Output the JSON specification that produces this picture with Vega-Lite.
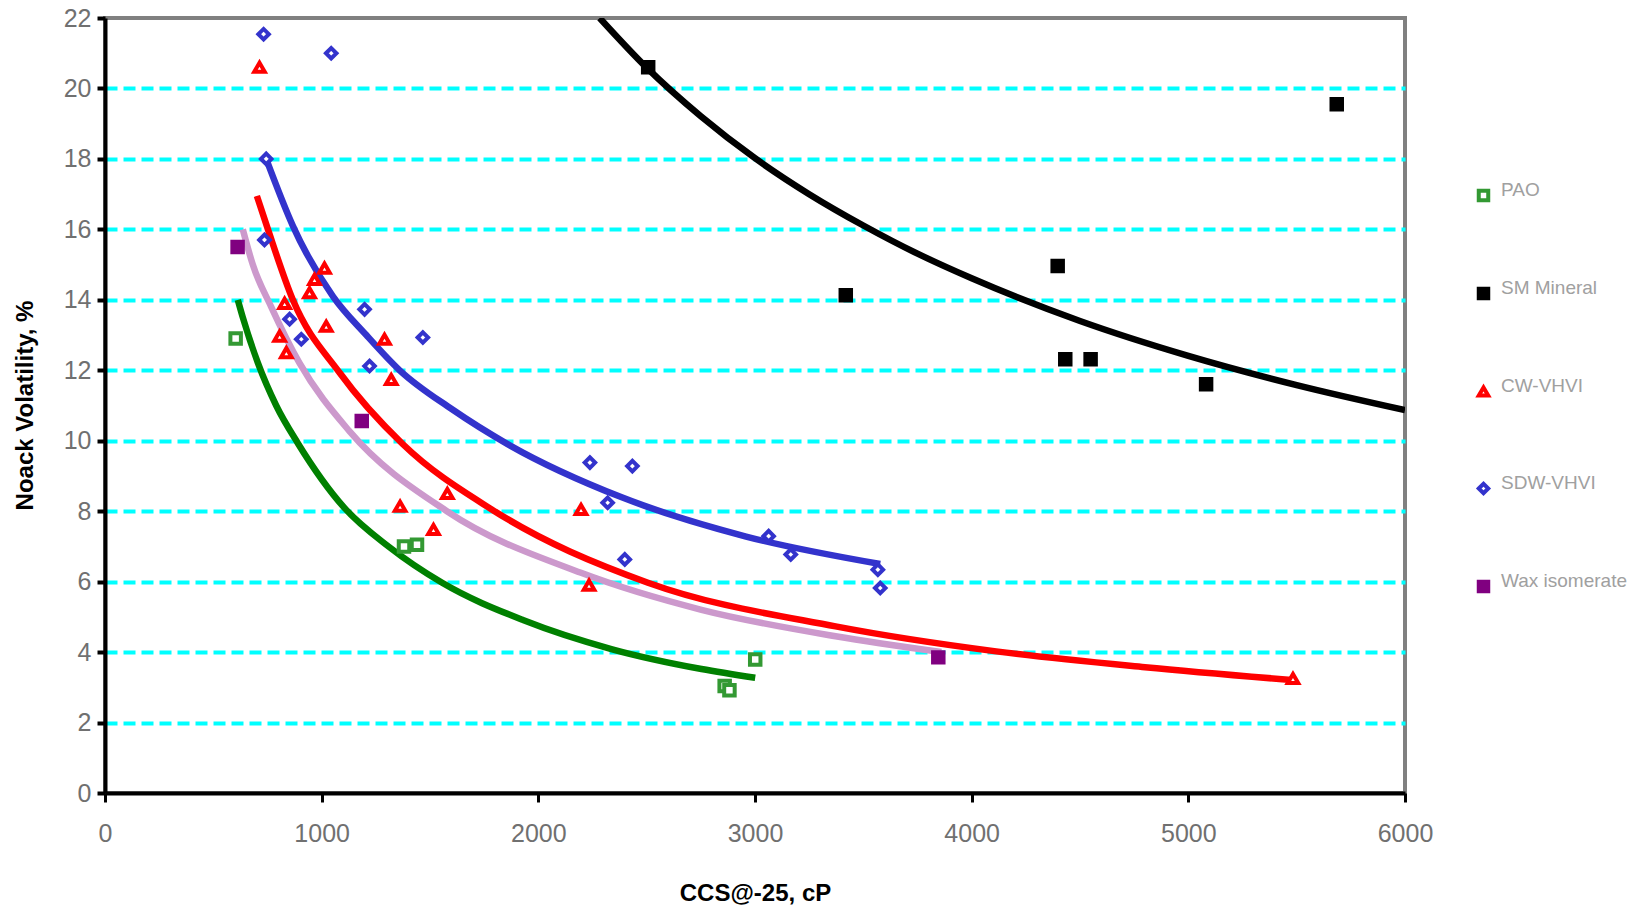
{
  "$schema": "https://vega.github.io/schema/vega-lite/v6.json",
  "autosize": "none",
  "width": 1300,
  "height": 775,
  "padding": {"left": 105, "top": 18, "right": 246, "bottom": 114},
  "background": "white",
  "config": {
    "font": "Liberation Sans",
    "view": {"stroke": "#808080", "strokeWidth": 4}
  },
  "datasets": {
    "obs": [
      {"series": "PAO", "ccs": 603, "noack": 12.9},
      {"series": "PAO", "ccs": 1380, "noack": 7.0},
      {"series": "PAO", "ccs": 1440, "noack": 7.05},
      {"series": "PAO", "ccs": 3001, "noack": 3.79},
      {"series": "PAO", "ccs": 2860, "noack": 3.04},
      {"series": "PAO", "ccs": 2882, "noack": 2.92},
      {"series": "SM Mineral", "ccs": 2507, "noack": 20.6},
      {"series": "SM Mineral", "ccs": 3419, "noack": 14.13},
      {"series": "SM Mineral", "ccs": 4397, "noack": 14.96},
      {"series": "SM Mineral", "ccs": 4432, "noack": 12.31},
      {"series": "SM Mineral", "ccs": 4549, "noack": 12.31},
      {"series": "SM Mineral", "ccs": 5082, "noack": 11.6},
      {"series": "SM Mineral", "ccs": 5685, "noack": 19.55},
      {"series": "CW-VHVI", "ccs": 713, "noack": 20.6},
      {"series": "CW-VHVI", "ccs": 1013, "noack": 14.9},
      {"series": "CW-VHVI", "ccs": 967, "noack": 14.58},
      {"series": "CW-VHVI", "ccs": 944, "noack": 14.2},
      {"series": "CW-VHVI", "ccs": 829, "noack": 13.9},
      {"series": "CW-VHVI", "ccs": 1021, "noack": 13.25},
      {"series": "CW-VHVI", "ccs": 806, "noack": 12.97},
      {"series": "CW-VHVI", "ccs": 837, "noack": 12.5},
      {"series": "CW-VHVI", "ccs": 1290, "noack": 12.88},
      {"series": "CW-VHVI", "ccs": 1321, "noack": 11.74},
      {"series": "CW-VHVI", "ccs": 1362, "noack": 8.14},
      {"series": "CW-VHVI", "ccs": 1516, "noack": 7.48},
      {"series": "CW-VHVI", "ccs": 1580, "noack": 8.5},
      {"series": "CW-VHVI", "ccs": 2197, "noack": 8.05},
      {"series": "CW-VHVI", "ccs": 2234, "noack": 5.9},
      {"series": "CW-VHVI", "ccs": 5483, "noack": 3.25},
      {"series": "SDW-VHVI", "ccs": 732, "noack": 21.54},
      {"series": "SDW-VHVI", "ccs": 1044, "noack": 21.0},
      {"series": "SDW-VHVI", "ccs": 744, "noack": 18.0},
      {"series": "SDW-VHVI", "ccs": 736, "noack": 15.7},
      {"series": "SDW-VHVI", "ccs": 852, "noack": 13.45},
      {"series": "SDW-VHVI", "ccs": 906, "noack": 12.88},
      {"series": "SDW-VHVI", "ccs": 1198, "noack": 13.73},
      {"series": "SDW-VHVI", "ccs": 1221, "noack": 12.12},
      {"series": "SDW-VHVI", "ccs": 1467, "noack": 12.93},
      {"series": "SDW-VHVI", "ccs": 2238, "noack": 9.38},
      {"series": "SDW-VHVI", "ccs": 2434, "noack": 9.28},
      {"series": "SDW-VHVI", "ccs": 2320, "noack": 8.24},
      {"series": "SDW-VHVI", "ccs": 2399, "noack": 6.63},
      {"series": "SDW-VHVI", "ccs": 3063, "noack": 7.29},
      {"series": "SDW-VHVI", "ccs": 3165, "noack": 6.77},
      {"series": "SDW-VHVI", "ccs": 3567, "noack": 6.34},
      {"series": "SDW-VHVI", "ccs": 3578, "noack": 5.82},
      {"series": "Wax isomerate", "ccs": 612, "noack": 15.5},
      {"series": "Wax isomerate", "ccs": 1185, "noack": 10.56},
      {"series": "Wax isomerate", "ccs": 3846, "noack": 3.85}
    ],
    "fits": [
      {"curve": "SM Mineral fit", "ccs": 2283, "noack": 22.0},
      {"curve": "SM Mineral fit", "ccs": 2500, "noack": 20.59},
      {"curve": "SM Mineral fit", "ccs": 2750, "noack": 19.21},
      {"curve": "SM Mineral fit", "ccs": 3000, "noack": 18.02},
      {"curve": "SM Mineral fit", "ccs": 3250, "noack": 17.0},
      {"curve": "SM Mineral fit", "ccs": 3500, "noack": 16.11},
      {"curve": "SM Mineral fit", "ccs": 3750, "noack": 15.31},
      {"curve": "SM Mineral fit", "ccs": 4000, "noack": 14.61},
      {"curve": "SM Mineral fit", "ccs": 4500, "noack": 13.4},
      {"curve": "SM Mineral fit", "ccs": 5000, "noack": 12.41},
      {"curve": "SM Mineral fit", "ccs": 5500, "noack": 11.58},
      {"curve": "SM Mineral fit", "ccs": 6000, "noack": 10.87},
      {"curve": "SDW-VHVI fit", "ccs": 744, "noack": 18.0},
      {"curve": "SDW-VHVI fit", "ccs": 867, "noack": 16.1},
      {"curve": "SDW-VHVI fit", "ccs": 1052, "noack": 14.1},
      {"curve": "SDW-VHVI fit", "ccs": 1206, "noack": 13.0},
      {"curve": "SDW-VHVI fit", "ccs": 1360, "noack": 12.0},
      {"curve": "SDW-VHVI fit", "ccs": 1600, "noack": 10.9},
      {"curve": "SDW-VHVI fit", "ccs": 1868, "noack": 9.87},
      {"curve": "SDW-VHVI fit", "ccs": 2382, "noack": 8.4},
      {"curve": "SDW-VHVI fit", "ccs": 2959, "noack": 7.28},
      {"curve": "SDW-VHVI fit", "ccs": 3578, "noack": 6.5},
      {"curve": "CW-VHVI fit", "ccs": 701, "noack": 16.95},
      {"curve": "CW-VHVI fit", "ccs": 752, "noack": 16.0},
      {"curve": "CW-VHVI fit", "ccs": 867, "noack": 14.0},
      {"curve": "CW-VHVI fit", "ccs": 1083, "noack": 11.93},
      {"curve": "CW-VHVI fit", "ccs": 1375, "noack": 9.9},
      {"curve": "CW-VHVI fit", "ccs": 1785, "noack": 8.05},
      {"curve": "CW-VHVI fit", "ccs": 2506, "noack": 5.97},
      {"curve": "CW-VHVI fit", "ccs": 3372, "noack": 4.73},
      {"curve": "CW-VHVI fit", "ccs": 4113, "noack": 4.02},
      {"curve": "CW-VHVI fit", "ccs": 4800, "noack": 3.57},
      {"curve": "CW-VHVI fit", "ccs": 5492, "noack": 3.2},
      {"curve": "Wax isomerate fit", "ccs": 636, "noack": 16.0},
      {"curve": "Wax isomerate fit", "ccs": 682, "noack": 15.0},
      {"curve": "Wax isomerate fit", "ccs": 767, "noack": 13.8},
      {"curve": "Wax isomerate fit", "ccs": 898, "noack": 12.2},
      {"curve": "Wax isomerate fit", "ccs": 1127, "noack": 10.28},
      {"curve": "Wax isomerate fit", "ccs": 1578, "noack": 8.0},
      {"curve": "Wax isomerate fit", "ccs": 2197, "noack": 6.25},
      {"curve": "Wax isomerate fit", "ccs": 2753, "noack": 5.2},
      {"curve": "Wax isomerate fit", "ccs": 3372, "noack": 4.45},
      {"curve": "Wax isomerate fit", "ccs": 3860, "noack": 4.0},
      {"curve": "PAO fit", "ccs": 613, "noack": 14.0},
      {"curve": "PAO fit", "ccs": 636, "noack": 13.5},
      {"curve": "PAO fit", "ccs": 706, "noack": 12.2},
      {"curve": "PAO fit", "ccs": 790, "noack": 11.0},
      {"curve": "PAO fit", "ccs": 890, "noack": 9.93},
      {"curve": "PAO fit", "ccs": 1104, "noack": 8.1},
      {"curve": "PAO fit", "ccs": 1310, "noack": 6.99},
      {"curve": "PAO fit", "ccs": 1558, "noack": 5.96},
      {"curve": "PAO fit", "ccs": 1929, "noack": 4.91},
      {"curve": "PAO fit", "ccs": 2341, "noack": 4.08},
      {"curve": "PAO fit", "ccs": 2753, "noack": 3.52},
      {"curve": "PAO fit", "ccs": 3001, "noack": 3.27}
    ]
  },
  "layer": [
    {
      "data": {"name": "fits"},
      "mark": {"type": "line", "strokeWidth": 6.5, "interpolate": "monotone", "clip": true},
      "encoding": {
        "x": {
          "field": "ccs", "type": "quantitative",
          "scale": {"domain": [0, 6000], "nice": false, "zero": true},
          "axis": {
            "title": "CCS@-25, cP",
            "values": [0, 1000, 2000, 3000, 4000, 5000, 6000],
            "format": "d",
            "grid": false,
            "domainColor": "#000000", "domainWidth": 4,
            "tickColor": "#000000", "tickWidth": 3, "tickSize": 9,
            "labelFontSize": 25, "labelColor": "#707070", "labelPadding": 19,
            "labelOverlap": false, "labelFlush": false,
            "titleFontSize": 24, "titleFontWeight": "bold", "titleColor": "#000000",
            "titleX": 650, "titleY": 107, "titleBaseline": "alphabetic", "titleAlign": "center"
          }
        },
        "y": {
          "field": "noack", "type": "quantitative",
          "scale": {"domain": [0, 22], "nice": false},
          "axis": {
            "title": "Noack Volatility, %",
            "values": [0, 2, 4, 6, 8, 10, 12, 14, 16, 18, 20, 22],
            "grid": true,
            "gridColor": {"condition": {"test": "datum.value == 0 || datum.value == 22", "value": "transparent"}, "value": "#00FFFF"},
            "gridDash": [12, 6], "gridWidth": 4,
            "domainColor": "#000000", "domainWidth": 4,
            "tickColor": "#000000", "tickWidth": 4, "tickSize": 8,
            "labelFontSize": 25, "labelColor": "#707070", "labelPadding": 6,
            "labelOverlap": false, "labelFlush": false,
            "titleFontSize": 24, "titleFontWeight": "bold", "titleColor": "#000000",
            "titleAngle": 270, "titleX": -73, "titleY": 387, "titleBaseline": "alphabetic", "titleAlign": "center"
          }
        },
        "stroke": {
          "field": "curve", "type": "nominal",
          "scale": {
            "domain": ["PAO fit", "SM Mineral fit", "CW-VHVI fit", "SDW-VHVI fit", "Wax isomerate fit"],
            "range": ["#008000", "#000000", "#FF0000", "#3333CC", "#CC99CC"]
          },
          "legend": null
        }
      }
    },
    {
      "data": {"name": "obs"},
      "mark": {"type": "point", "filled": false, "strokeWidth": 4, "size": 110, "opacity": 1},
      "encoding": {
        "x": {"field": "ccs", "type": "quantitative"},
        "y": {"field": "noack", "type": "quantitative"},
        "color": {
          "field": "series", "type": "nominal",
          "scale": {
            "domain": ["PAO", "SM Mineral", "CW-VHVI", "SDW-VHVI", "Wax isomerate"],
            "range": ["#339933", "#000000", "#FF0000", "#3333CC", "#800080"]
          },
          "legend": {
            "orient": "none", "legendX": 1369, "legendY": 168,
            "title": null, "padding": 0,
            "labelFontSize": 19, "labelColor": "#a0a0a0", "labelOffset": 8,
            "labelBaseline": "alphabetic",
            "rowPadding": 69, "symbolSize": 90, "symbolStrokeWidth": 4
          }
        },
        "fill": {
          "field": "series", "type": "nominal",
          "scale": {
            "domain": ["PAO", "SM Mineral", "CW-VHVI", "SDW-VHVI", "Wax isomerate"],
            "range": ["#FFFFFF", "#000000", "#FFFFFF", "#FFFFFF", "#800080"]
          }
        },
        "shape": {
          "field": "series", "type": "nominal",
          "scale": {
            "domain": ["PAO", "SM Mineral", "CW-VHVI", "SDW-VHVI", "Wax isomerate"],
            "range": ["square", "square", "triangle-up", "diamond", "square"]
          }
        }
      }
    }
  ]
}
